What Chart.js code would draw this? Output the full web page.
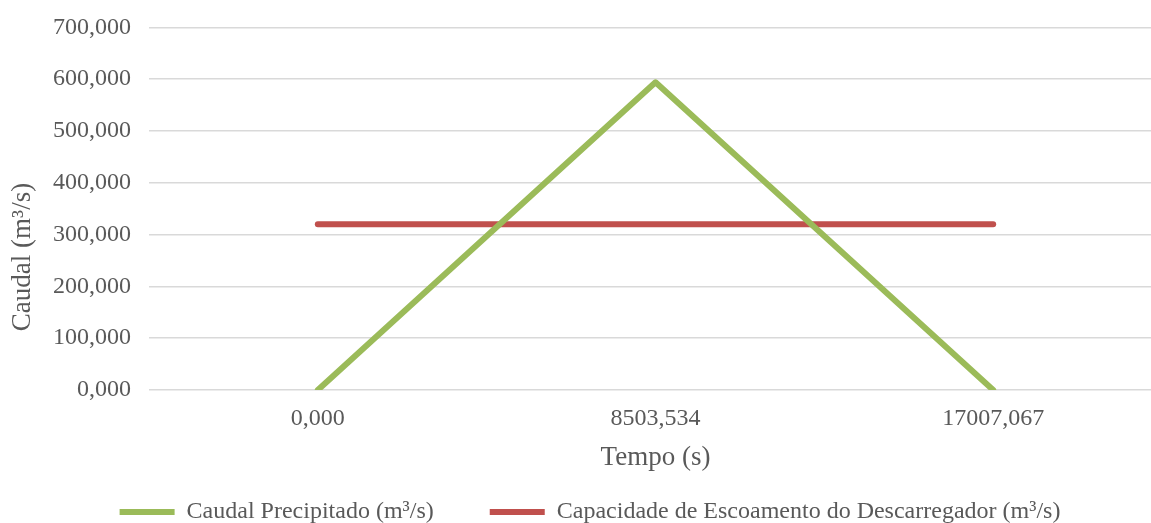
<!DOCTYPE html>
<html><head><meta charset="utf-8">
<script src="https://cdn.jsdelivr.net/npm/chart.js@4/dist/chart.umd.min.js"></script>
<style>
html,body{margin:0;padding:0;background:#fff;overflow:hidden;}
#wrap{width:1151px;height:523px;overflow:hidden;position:relative;}
#box{width:1163px;height:528px;position:absolute;left:0;top:-5px;}
</style></head><body>
<div id="wrap"><div id="box"><canvas id="c"></canvas></div></div>
<script>
const categories = ["0,000", "8503,534", "17007,067"];
const caudalPrecipitado = [0, 594, 0];
const capacidadeDescarregador = [320, 320, 320];
const seriesNames = ["Caudal Precipitado (m³/s)", "Capacidade de Escoamento do Descarregador (m³/s)"];
const yTitle = "Caudal (m³/s)";
const xTitle = "Tempo (s)";

const FONT = "'Liberation Serif', 'Times New Roman', serif";
const TXT = "#595959";

const yTitlePlugin = {
  id: 'yTitle',
  afterInit(chart) {
    const lg = chart.legend;
    if (lg && !lg._shifted) {
      const orig = lg.draw.bind(lg);
      lg.draw = function () {
        const ctx = this.ctx;
        ctx.save();
        ctx.translate(9, 0);
        orig();
        ctx.restore();
      };
      lg._shifted = true;
    }
  },
  afterDraw(chart) {
    const ctx = chart.ctx;
    ctx.save();
    ctx.translate(23, 262);
    ctx.rotate(-Math.PI / 2);
    ctx.font = "27px " + FONT;
    ctx.fillStyle = TXT;
    ctx.textAlign = 'center';
    ctx.textBaseline = 'middle';
    ctx.fillText(yTitle, 0, 0);
    ctx.restore();
  }
};

new Chart(document.getElementById('c'), {
  type: 'line',
  data: {
    labels: categories,
    datasets: [
      { label: seriesNames[0], data: caudalPrecipitado, borderColor: '#9BBB59', backgroundColor: '#9BBB59',
        borderWidth: 6, pointRadius: 0, tension: 0, borderCapStyle: 'round', borderJoinStyle: 'round' },
      { label: seriesNames[1], data: capacidadeDescarregador, borderColor: '#C0504D', backgroundColor: '#C0504D',
        borderWidth: 6, pointRadius: 0, tension: 0, borderCapStyle: 'round' }
    ]
  },
  options: {
    responsive: true,
    maintainAspectRatio: false,
    animation: false,
    layout: { padding: { top: 4, right: 1, left: 0, bottom: 0 } },
    plugins: {
      tooltip: { enabled: false },
      legend: {
        position: 'bottom',
        maxHeight: 79,
        labels: {
          font: { family: FONT, size: 24 },
          color: TXT,
          boxWidth: 55,
          boxHeight: 6,
          padding: 56,
          generateLabels(chart) {
            return chart.data.datasets.map((d, i) => ({
              text: d.label, fillStyle: d.borderColor, strokeStyle: d.borderColor,
              lineWidth: 0, fontColor: TXT, datasetIndex: i, hidden: false
            }));
          }
        }
      }
    },
    scales: {
      x: {
        type: 'category',
        offset: true,
        grid: { display: false, drawTicks: false },
        border: { display: false },
        ticks: { font: { family: FONT, size: 24 }, color: TXT, padding: 14, maxRotation: 0 },
        title: { display: true, text: xTitle, font: { family: FONT, size: 27 }, color: TXT, padding: { top: 0, bottom: -30 } },
        afterFit(scale) { scale.height = 54; }
      },
      y: {
        min: 0, max: 700,
        ticks: {
          stepSize: 100,
          font: { family: FONT, size: 24 }, color: TXT, padding: 18,
          callback: v => v.toFixed(3).replace('.', ',')
        },
        grid: { color: '#D9D9D9', lineWidth: 1.5, drawTicks: false },
        border: { display: false },
        afterFit(scale) { scale.width = 149; }
      }
    }
  },
  plugins: [yTitlePlugin]
});
</script>
</body></html>
